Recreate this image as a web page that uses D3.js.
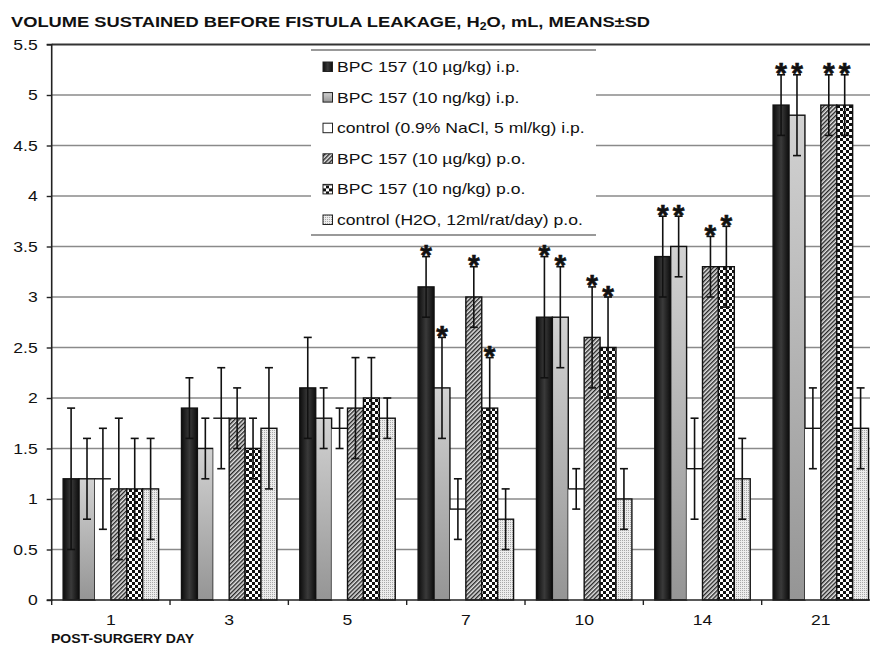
<!DOCTYPE html>
<html><head><meta charset="utf-8">
<script src="https://cdn.jsdelivr.net/npm/d3@7"></script>
<style>body{margin:0;background:#fff}svg{display:block}text{font-family:"Liberation Sans",Arial,sans-serif}</style>
</head><body><svg id="c" width="870" height="645"></svg>
<script>
const days = ["1","3","5","7","10","14","21"];
const seriesNames = ["BPC 157 (10 µg/kg) i.p.","BPC 157 (10 ng/kg) i.p.","control (0.9% NaCl, 5 ml/kg) i.p.","BPC 157 (10 µg/kg) p.o.","BPC 157 (10 ng/kg) p.o.","control (H2O, 12ml/rat/day) p.o."];
const bpc10ugIP = [1.2,1.9,2.1,3.1,2.8,3.4,4.9];
const bpc10ngIP = [1.2,1.5,1.8,2.1,2.8,3.5,4.8];
const salineIP  = [1.2,1.8,1.7,0.9,1.1,1.3,1.7];
const bpc10ugPO = [1.1,1.8,1.9,3.0,2.6,3.3,4.9];
const bpc10ngPO = [1.1,1.5,2.0,1.9,2.5,3.3,4.9];
const waterPO   = [1.1,1.7,1.8,0.8,1.0,1.2,1.7];
const sd10ugIP = [0.7,0.3,0.5,0.3,0.6,0.4,0.3];
const sd10ngIP = [0.4,0.3,0.3,0.5,0.5,0.3,0.4];
const sdSaline = [0.5,0.5,0.2,0.3,0.2,0.5,0.4];
const sd10ugPO = [0.7,0.3,0.5,0.3,0.5,0.3,0.3];
const sd10ngPO = [0.5,0.3,0.4,0.5,0.5,0.4,0.3];
const sdWater  = [0.5,0.6,0.2,0.3,0.3,0.4,0.4];
const signif10ugIP = [0,0,0,1,1,1,1];
const signif10ngIP = [0,0,0,1,1,1,1];
const signif10ugPO = [0,0,0,1,1,1,1];
const signif10ngPO = [0,0,0,1,1,1,1];
const yTicks = [0,0.5,1,1.5,2,2.5,3,3.5,4,4.5,5,5.5];

const means = [bpc10ugIP,bpc10ngIP,salineIP,bpc10ugPO,bpc10ngPO,waterPO];
const sds = [sd10ugIP,sd10ngIP,sdSaline,sd10ugPO,sd10ngPO,sdWater];
const sig = [signif10ugIP,signif10ngIP,null,signif10ugPO,signif10ngPO,null];

const SX = 1.17;
function stretch(sel, f){ const k=f||SX; sel.each(function(){ const l=this.getComputedTextLength(); if(l>0){ this.setAttribute("textLength", l*k); this.setAttribute("lengthAdjust","spacingAndGlyphs"); } }); }

const svg = d3.select("#c");
const defs = svg.append("defs");
const gBlack = defs.append("linearGradient").attr("id","gBlack").attr("x1","0").attr("x2","1").attr("y1","0").attr("y2","0");
gBlack.append("stop").attr("offset","0").attr("stop-color","#0d0d0d");
gBlack.append("stop").attr("offset","0.5").attr("stop-color","#3a3a3a");
gBlack.append("stop").attr("offset","1").attr("stop-color","#0d0d0d");
const gGray = defs.append("linearGradient").attr("id","gGray").attr("x1","0").attr("x2","0").attr("y1","0").attr("y2","1");
gGray.append("stop").attr("offset","0").attr("stop-color","#d2d2d2");
gGray.append("stop").attr("offset","1").attr("stop-color","#959595");
const pH = defs.append("pattern").attr("id","pHatch").attr("patternUnits","userSpaceOnUse").attr("width",3).attr("height",3).attr("patternTransform","rotate(-45)");
pH.append("rect").attr("width",3).attr("height",3).attr("fill","#e4e4e4");
pH.append("rect").attr("width",3).attr("height",1.4).attr("fill","#262626");
const pC = defs.append("pattern").attr("id","pCheck").attr("patternUnits","userSpaceOnUse").attr("width",6).attr("height",6);
pC.append("rect").attr("width",6).attr("height",6).attr("fill","#fff");
pC.append("rect").attr("width",3).attr("height",3).attr("fill","#111");
pC.append("rect").attr("x",3).attr("y",3).attr("width",3).attr("height",3).attr("fill","#111");
const pD = defs.append("pattern").attr("id","pDots").attr("patternUnits","userSpaceOnUse").attr("width",2).attr("height",2);
pD.append("rect").attr("width",2).attr("height",2).attr("fill","#ececec");
pD.append("rect").attr("width",1).attr("height",1).attr("fill","#a8a8a8");
const fills = ["url(#gBlack)","url(#gGray)","#fff","url(#pHatch)","url(#pCheck)","url(#pDots)"];

const left = 51.7, right = 880, y0 = 600, yTop = 44.5;
const x0 = d3.scaleBand().domain(days).range([left,right]).padding(0);
const x1 = d3.scaleBand().domain(d3.range(6)).range([0,x0.bandwidth()]).paddingInner(0).paddingOuter(0.72);
const y = d3.scaleLinear().domain([0,5.5]).range([y0,yTop]);

// title
const title = svg.append("text").attr("x",11).attr("y",27).attr("font-size",15).attr("font-weight","bold").attr("fill","#111");
title.append("tspan").text("VOLUME SUSTAINED BEFORE FISTULA LEAKAGE, H");
title.append("tspan").attr("font-size",10).attr("dy",3).text("2");
title.append("tspan").attr("dy",-3).text("O, mL, MEANS±SD");
title.call(stretch, 1.22);

// gridlines
svg.append("g").selectAll("line").data(yTicks.filter(d=>d>0)).join("line")
  .attr("x1",left).attr("x2",right).attr("y1",d=>y(d)).attr("y2",d=>y(d))
  .attr("stroke",d=>d===5.5?"#333":"#8a8a8a").attr("stroke-width",d=>d===5.5?2.2:1.4);

// legend
const lg = svg.append("g");
lg.append("rect").attr("x",311).attr("y",50).attr("width",285).attr("height",185).attr("fill","#fff");
lg.append("line").attr("x1",311).attr("x2",596).attr("y1",50).attr("y2",50).attr("stroke","#777").attr("stroke-width",1.6);
lg.append("line").attr("x1",311).attr("x2",596).attr("y1",235).attr("y2",235).attr("stroke","#777").attr("stroke-width",1.6);
const rows = lg.selectAll("g.row").data(seriesNames).join("g").attr("class","row")
  .attr("transform",(d,i)=>`translate(323,${72+i*30.6})`);
rows.append("rect").attr("x",0).attr("y",-10).attr("width",9.5).attr("height",9.5)
  .attr("fill",(d,i)=>fills[i]).attr("stroke","#222").attr("stroke-width",1);
rows.append("text").attr("x",14).attr("y",0).attr("font-size",15).attr("fill","#111").text(d=>d).call(stretch);

// bars
const flat = [];
days.forEach((d,g)=>{ for(let s=0;s<6;s++) flat.push({day:d,s,v:means[s][g],sd:sds[s][g],sig:sig[s]?sig[s][g]:0}); });
const bx = d=>x0(d.day)+x1(d.s), bw = x1.bandwidth();
const bars = svg.append("g");
bars.selectAll("rect").data(flat).join("rect")
  .attr("x",bx).attr("y",d=>y(d.v)).attr("width",bw).attr("height",d=>y0-y(d.v))
  .attr("fill",d=>fills[d.s]).attr("stroke",d=>d.s===2?"none":"#111").attr("stroke-width",1.4);
bars.selectAll("line.top").data(flat.filter(d=>d.s===2)).join("line").attr("class","top")
  .attr("x1",bx).attr("x2",d=>bx(d)+bw).attr("y1",d=>y(d.v)).attr("y2",d=>y(d.v)).attr("stroke","#111").attr("stroke-width",1.4);

// error bars
const eb = svg.append("g").attr("stroke","#111").attr("stroke-width",1.6);
eb.selectAll("line.v").data(flat).join("line").attr("class","v")
  .attr("x1",d=>bx(d)+bw/2).attr("x2",d=>bx(d)+bw/2).attr("y1",d=>y(d.v-d.sd)).attr("y2",d=>y(d.v+d.sd));
eb.selectAll("line.t").data(flat).join("line").attr("class","t")
  .attr("x1",d=>bx(d)+bw/2-4).attr("x2",d=>bx(d)+bw/2+4).attr("y1",d=>y(d.v+d.sd)).attr("y2",d=>y(d.v+d.sd));
eb.selectAll("line.b").data(flat).join("line").attr("class","b")
  .attr("x1",d=>bx(d)+bw/2-4).attr("x2",d=>bx(d)+bw/2+4).attr("y1",d=>y(d.v-d.sd)).attr("y2",d=>y(d.v-d.sd));

// asterisks
svg.append("g").selectAll("text").data(flat.filter(d=>d.sig)).join("text")
  .attr("x",d=>bx(d)+bw/2).attr("y",d=>y(d.v+d.sd)+8.5).attr("text-anchor","middle")
  .attr("font-size",30).attr("font-weight","bold").attr("fill","#111")
  .attr("stroke","#111").attr("stroke-width",0.6).text("*");

// y axis
const ya = svg.append("g").attr("transform",`translate(${left},0)`)
  .call(d3.axisLeft(y).tickValues(yTicks).tickSize(5).tickPadding(9).tickFormat(d3.format("")));
ya.select(".domain").attr("stroke","#222").attr("stroke-width",1.6).attr("d",`M-5,${y0}H0V${yTop}H-5`);
ya.selectAll(".tick line").attr("stroke","#222").attr("stroke-width",1.4);
ya.selectAll("text").attr("font-size",15).attr("fill","#111").call(stretch);

// x axis
const xa = svg.append("g").attr("transform",`translate(0,${y0})`);
xa.append("line").attr("x1",left).attr("x2",right).attr("stroke","#222").attr("stroke-width",1.6);
xa.selectAll("line.tk").data(days.concat(["end"])).join("line").attr("class","tk")
  .attr("x1",d=>d==="end"?right:x0(d)).attr("x2",d=>d==="end"?right:x0(d)).attr("y1",0).attr("y2",5)
  .attr("stroke","#222").attr("stroke-width",1.4);
xa.selectAll("text").data(days).join("text").attr("x",d=>x0(d)+x0.bandwidth()/2).attr("y",25)
  .attr("text-anchor","middle").attr("font-size",15).attr("fill","#111").text(d=>d).call(stretch);
svg.append("text").attr("x",51).attr("y",643).attr("font-size",12).attr("font-weight","bold").attr("fill","#111")
  .text("POST-SURGERY DAY").call(stretch);
</script></body></html>
